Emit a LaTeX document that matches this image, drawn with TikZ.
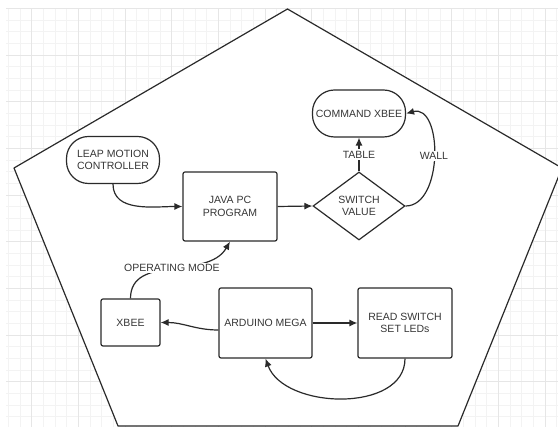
\documentclass[tikz,border=0pt]{standalone}
\usepackage{fontspec}
\setmainfont{Liberation Sans}
\usetikzlibrary{shapes.geometric}
\usetikzlibrary{arrows.meta}

\definecolor{inkgray}{HTML}{2A2A2A}
\definecolor{textgray}{HTML}{363636}
\definecolor{gridminor}{HTML}{F3F3F3}
\definecolor{gridmajor}{HTML}{E6E6E6}

\begin{document}
\begin{tikzpicture}[
        x=1pt, y=1pt,
        every node/.style={font=\fontsize{10.5}{12.5}\selectfont, text=textgray, align=center},
        block/.style={rectangle, draw=inkgray, line width=1.2pt, rounded corners=2pt, fill=white, minimum width=94pt, minimum height=70pt},
        pill/.style={rectangle, draw=inkgray, line width=1.2pt, rounded corners=22pt, fill=white, minimum width=93pt, minimum height=47pt},
        decision/.style={diamond, aspect=1.4, inner sep=0pt, draw=inkgray, line width=1.2pt, fill=white, minimum width=92pt, minimum height=68pt},
        tag/.style={fill=white, inner sep=1.5pt},
        wire/.style={draw=inkgray, line width=1.2pt},
        arr/.style={wire, -{Latex[length=8pt, width=7pt]}},
    ]

    \useasboundingbox (0,0) rectangle (558,-427);
    \clip (0,0) rectangle (558,-427);

    % Background grid
    \begin{scope}[shift={(8.33,-8.33)}]
        \draw[gridminor, line width=0.8pt, step=11.667] (-2.33,0.33) grid (550,-419);
    \end{scope}
    \begin{scope}[shift={(31.67,-55)}]
        \draw[gridmajor, line width=0.8pt, step=46.667] (-25.67,47) grid (527,-372);
    \end{scope}

    % Corner points of the pentagon
    \coordinate (P1) at (287.5,-9);
    \coordinate (P2) at (562,-168);
    \coordinate (P3) at (458,-426);
    \coordinate (P4) at (118,-426);
    \coordinate (P5) at (14,-168);

    \draw[wire, fill=white, line join=round] (P1) -- (P2) -- (P3) -- (P4) -- (P5) -- cycle;

    % PC side
    \node[pill] (leap) at (113,-160) {LEAP MOTION\\CONTROLLER};
    \node[block, minimum height=69pt] (java) at (230,-206.5) {JAVA PC\\PROGRAM};
    \node[decision] (switch) at (359,-206) {SWITCH\\VALUE};
    \node[pill, minimum width=92pt] (cmd) at (359,-113.5) {COMMAND XBEE};

    % Arduino side
    \node[block, minimum width=59pt, minimum height=47pt] (xbee) at (130.5,-322.5) {XBEE};
    \node[block, minimum width=93pt] (arduino) at (265.5,-323) {ARDUINO MEGA};
    \node[block] (readsw) at (405,-323) {READ SWITCH\\SET LEDs};

    \draw[arr] (leap.south) to[out=-90, in=180] (java.west);
    \draw[arr] (java.east) -- (switch.west);
    \draw[arr] (switch.north) -- node[tag] {TABLE} (cmd.south);
    \draw[arr] (switch.east) to[out=0, in=15, looseness=1.05] node[tag] {WALL} (cmd.east);

    \draw[arr] (xbee.north) to[out=90, in=-120] node[tag] {OPERATING MODE} (java.south);

    \draw[arr] ([yshift=-7pt]arduino.west) to[out=180, in=0] (xbee.east);
    \draw[arr] (arduino.east) -- (readsw.west);
    \draw[arr] (readsw.south) to[out=-90, in=-70, looseness=1.0] (arduino.south);
\end{tikzpicture}
\end{document}
